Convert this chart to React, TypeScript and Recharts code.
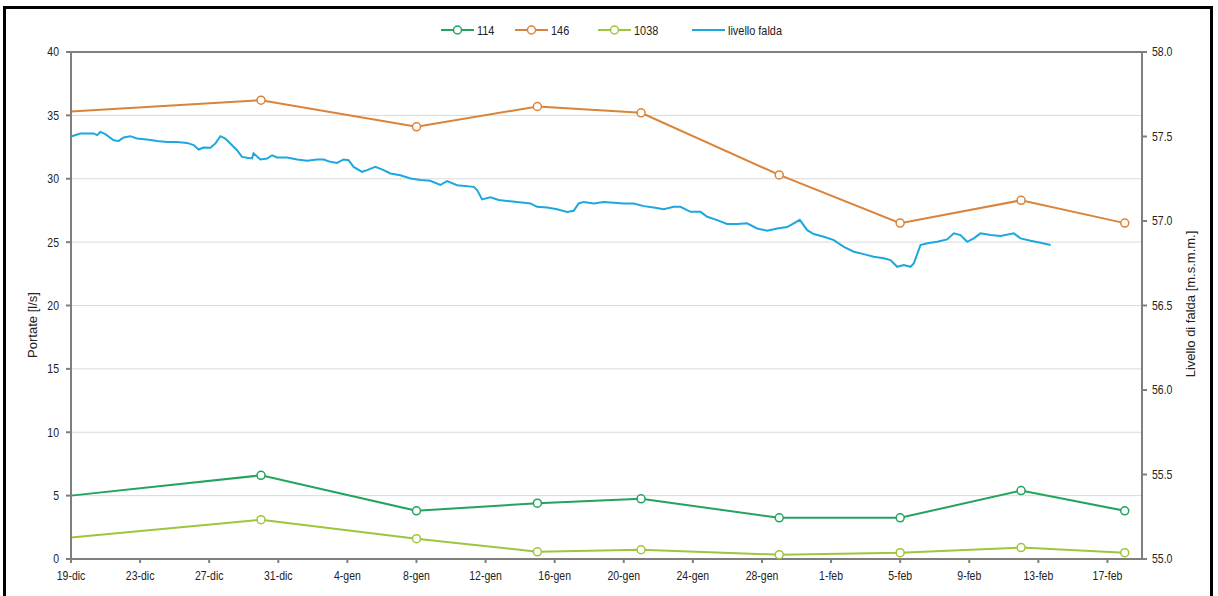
import { LineChart, Line, XAxis, YAxis, CartesianGrid, ReferenceLine } from "recharts";

// days counted from 19-dic
const xTicks = [0, 4, 8, 12, 16, 20, 24, 28, 32, 36, 40, 44, 48, 52, 56, 60];
const xTickLabels = [
  "19-dic", "23-dic", "27-dic", "31-dic", "4-gen", "8-gen", "12-gen", "16-gen",
  "20-gen", "24-gen", "28-gen", "1-feb", "5-feb", "9-feb", "13-feb", "17-feb",
];

// survey days: 19-dic, 30-dic, 8-gen, 15-gen, 21-gen, 29-gen, 5-feb, 12-feb, 18-feb
const surveyDays = [0, 11, 20, 27, 33, 41, 48, 55, 61];
const flow114 = [5.0, 6.6, 3.8, 4.4, 4.75, 3.25, 3.25, 5.4, 3.8];
const flow146 = [35.3, 36.2, 34.1, 35.7, 35.2, 30.3, 26.5, 28.3, 26.5];
const flow1038 = [1.7, 3.1, 1.6, 0.57, 0.73, 0.34, 0.5, 0.9, 0.5];

// groundwater level [m.s.m.m.] as [day, value]
const levelFalda: [number, number][] = [
  [0, 57.5], [0.54, 57.518], [1.31, 57.518], [1.51, 57.508], [1.7, 57.527], [1.99, 57.514],
  [2.47, 57.478], [2.76, 57.474], [3.05, 57.494], [3.43, 57.502], [3.82, 57.488], [4.4, 57.482],
  [4.98, 57.474], [5.56, 57.468], [6.14, 57.468], [6.72, 57.462], [7.1, 57.449], [7.39, 57.423],
  [7.68, 57.435], [8.07, 57.433], [8.36, 57.459], [8.65, 57.502], [8.93, 57.488], [9.22, 57.459],
  [9.61, 57.419], [9.9, 57.379], [10.19, 57.374], [10.48, 57.37], [10.57, 57.4], [10.96, 57.364],
  [11.35, 57.37], [11.64, 57.389], [11.93, 57.376], [12.51, 57.376], [13.09, 57.364], [13.67, 57.356],
  [14.24, 57.364], [14.63, 57.364], [15.01, 57.35], [15.4, 57.344], [15.78, 57.364], [16.07, 57.36],
  [16.36, 57.32], [16.85, 57.291], [17.14, 57.301], [17.62, 57.32], [18.1, 57.301], [18.49, 57.281],
  [19.07, 57.271], [19.65, 57.252], [20.23, 57.242], [20.8, 57.238], [21.38, 57.213], [21.77, 57.236],
  [22.35, 57.212], [23.31, 57.202], [23.51, 57.183], [23.8, 57.128], [24.28, 57.14], [24.76, 57.124],
  [25.25, 57.119], [25.82, 57.113], [26.6, 57.104], [26.98, 57.084], [27.56, 57.08], [28.14, 57.069],
  [28.72, 57.054], [29.1, 57.06], [29.39, 57.104], [29.68, 57.113], [30.26, 57.104], [30.84, 57.113],
  [31.42, 57.108], [32.0, 57.104], [32.58, 57.104], [33.16, 57.088], [33.73, 57.08], [34.31, 57.069],
  [34.89, 57.084], [35.28, 57.084], [35.86, 57.054], [36.44, 57.054], [36.83, 57.025], [37.41, 57.005],
  [37.98, 56.982], [38.56, 56.982], [39.14, 56.986], [39.72, 56.956], [40.3, 56.942], [40.88, 56.956],
  [41.46, 56.964], [41.84, 56.986], [42.19, 57.007], [42.62, 56.946], [43.0, 56.923], [43.58, 56.907],
  [44.16, 56.887], [44.74, 56.847], [45.32, 56.818], [45.89, 56.804], [46.47, 56.788], [47.05, 56.779],
  [47.44, 56.769], [47.83, 56.729], [48.21, 56.739], [48.6, 56.729], [48.79, 56.749], [49.18, 56.858],
  [49.57, 56.868], [50.14, 56.877], [50.72, 56.891], [51.11, 56.927], [51.49, 56.917], [51.88, 56.877],
  [52.26, 56.897], [52.65, 56.927], [53.23, 56.917], [53.81, 56.911], [54.58, 56.927], [54.97, 56.897],
  [55.55, 56.883], [56.13, 56.871], [56.71, 56.858],
];

const leftTicks = [0, 5, 10, 15, 20, 25, 30, 35, 40];
const rightTicks = [55, 55.5, 56, 56.5, 57, 57.5, 58];

const C114 = "#23a35c";
const C146 = "#d9843a";
const C1038 = "#9cc63e";
const CLEVEL = "#1ca8de";
const AXIS = "#7f7f7f";
const FONT = "'Liberation Sans', Arial, sans-serif";
const NARROW = 0.84; // squeeze to look like Arial Narrow

const toRows = (vals: number[]) => surveyDays.map((day, i) => ({ day, v: vals[i] }));
const levelRows = levelFalda.map(([day, v]) => ({ day, v }));

const makeDot = (color: string) => (p: any) => {
  if (p.index === 0) return <g key={`d-${p.index}`} />;
  return (
    <circle key={`d-${p.index}`} cx={p.cx} cy={p.cy} r={4} fill="#fff" stroke={color} strokeWidth={1.5} />
  );
};

// narrow tick label
const NarrowTick = (fmt: (v: number) => string, anchor: "start" | "middle" | "end", dy: string) =>
  (p: any) => (
    <g transform={`translate(${p.x},${p.y})`}>
      <text
        transform={`scale(${NARROW},1)`}
        textAnchor={anchor}
        dy={dy}
        fontSize={12.5}
        fontFamily={FONT}
        fill="#222"
      >
        {fmt(p.payload.value)}
      </text>
    </g>
  );

const legendItems = [
  { name: "114", color: C114, marker: true },
  { name: "146", color: C146, marker: true },
  { name: "1038", color: C1038, marker: true },
  { name: "livello falda", color: CLEVEL, marker: false },
];
const legendX = [441, 515, 598, 692];

export default function App() {
  return (
    <div
      style={{
        position: "fixed",
        left: 0,
        top: 0,
        width: 1218,
        height: 596,
        overflow: "hidden",
        background: "#fff",
      }}
    >
      <div
        style={{
          position: "absolute",
          left: 3,
          top: 6,
          width: 1204,
          height: 640,
          border: "3px solid #000",
        }}
      />
      <LineChart width={1218} height={596} margin={{ top: 52, right: 0, bottom: 7, left: 0 }}>
        <CartesianGrid yAxisId="left" vertical={false} stroke="#dadada" strokeWidth={1} />
        <XAxis
          dataKey="day"
          type="number"
          domain={[0, 62]}
          ticks={xTicks}
          allowDuplicatedCategory={false}
          height={30}
          tick={NarrowTick((d) => xTickLabels[xTicks.indexOf(d)] ?? "", "middle", "0.75em")}
          tickSize={4}
          tickMargin={8}
          stroke={AXIS}
          strokeWidth={2}
        />
        <YAxis
          yAxisId="left"
          domain={[0, 40]}
          ticks={leftTicks}
          width={71}
          tick={NarrowTick((v) => String(v), "end", "0.355em")}
          tickSize={5}
          tickMargin={7}
          stroke={AXIS}
          strokeWidth={2}
        />
        <YAxis
          yAxisId="right"
          orientation="right"
          domain={[55, 58]}
          ticks={rightTicks}
          width={76}
          tick={NarrowTick((v) => v.toFixed(1), "start", "0.355em")}
          tickSize={5}
          tickMargin={5}
          stroke={AXIS}
          strokeWidth={2}
        />
        <ReferenceLine yAxisId="left" y={40} stroke={AXIS} strokeWidth={2} />
        <Line
          yAxisId="right"
          data={levelRows}
          dataKey="v"
          stroke={CLEVEL}
          strokeWidth={2}
          dot={false}
          isAnimationActive={false}
        />
        <Line
          yAxisId="left"
          data={toRows(flow146)}
          dataKey="v"
          stroke={C146}
          strokeWidth={2}
          dot={makeDot(C146)}
          isAnimationActive={false}
        />
        <Line
          yAxisId="left"
          data={toRows(flow1038)}
          dataKey="v"
          stroke={C1038}
          strokeWidth={2}
          dot={makeDot(C1038)}
          isAnimationActive={false}
        />
        <Line
          yAxisId="left"
          data={toRows(flow114)}
          dataKey="v"
          stroke={C114}
          strokeWidth={2}
          dot={makeDot(C114)}
          isAnimationActive={false}
        />
      </LineChart>

      <svg style={{ position: "absolute", left: 0, top: 20 }} width={1218} height={20}>
        {legendItems.map((it, i) => (
          <g key={it.name} transform={`translate(${legendX[i]},10)`}>
            <line x1={0} y1={0} x2={33} y2={0} stroke={it.color} strokeWidth={2} />
            {it.marker && <circle cx={16.5} cy={0} r={4} fill="#fff" stroke={it.color} strokeWidth={1.5} />}
            <text
              transform={`translate(36,0) scale(${NARROW},1)`}
              dy="0.355em"
              fontSize={13}
              fontFamily={FONT}
              fill="#222"
            >
              {it.name}
            </text>
          </g>
        ))}
      </svg>

      <div
        style={{
          position: "absolute",
          left: 32,
          top: 325,
          transform: "translate(-50%, -50%) rotate(-90deg)",
          whiteSpace: "nowrap",
          fontFamily: FONT,
          fontSize: 13,
          color: "#222",
        }}
      >
        Portate [l/s]
      </div>
      <div
        style={{
          position: "absolute",
          left: 1190,
          top: 304,
          transform: "translate(-50%, -50%) rotate(-90deg)",
          whiteSpace: "nowrap",
          fontFamily: FONT,
          fontSize: 13,
          color: "#222",
        }}
      >
        Livello di falda [m.s.m.m.]
      </div>
    </div>
  );
}
